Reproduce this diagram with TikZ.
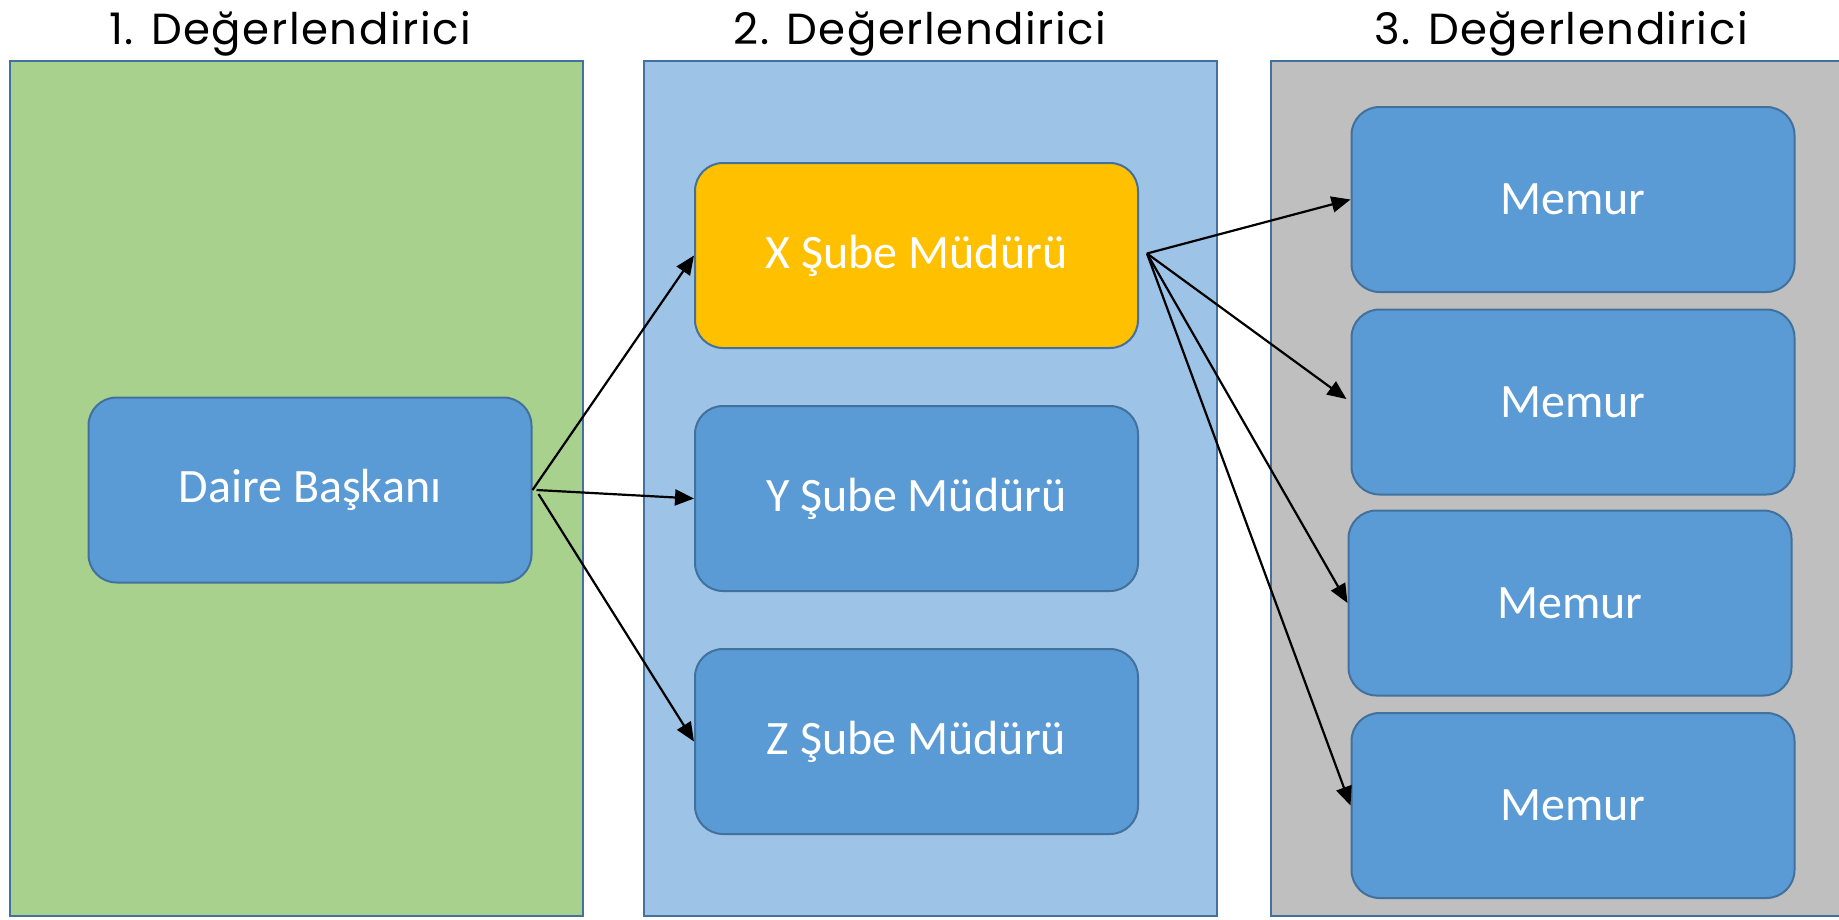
\documentclass[tikz,border=0pt]{standalone}
\usepackage{fontspec}
\newfontfamily\cardfont{Carlito}
\newfontfamily\headfamily[LetterSpace=3.5]{Poppins}
\usetikzlibrary{arrows.meta}

\definecolor{panelgreen}{HTML}{A9D18E}
\definecolor{panelblue}{HTML}{9DC3E6}
\definecolor{panelgray}{HTML}{BFBFBF}
\definecolor{cardblue}{HTML}{5B9BD5}
\definecolor{cardorange}{HTML}{FFC000}
\definecolor{edge}{HTML}{41719C}

\begin{document}
\begin{tikzpicture}[x=1pt,y=-1pt,
  panel/.style={draw=edge, line width=2pt},
  heading/.style={font=\headfamily\fontsize{43.5}{48}\selectfont, anchor=base, text=black, inner sep=0pt},
  card/.style={draw=edge, line width=2pt, fill=cardblue, rounded corners=28pt,
    minimum width=443pt, minimum height=185pt, inner sep=0pt,
    text=white, font=\cardfont\fontsize{48}{50}\selectfont},
  link/.style={-{Triangle[length=19pt,width=16pt]}, line width=2.2pt, black}]
\useasboundingbox (0,0) rectangle (1839,919);

% column backgrounds
\draw[panel, fill=panelgreen] (10,61) rectangle (583,916);
\draw[panel, fill=panelblue] (644,61) rectangle (1217,916);
\draw[panel, fill=panelgray] (1271,61) rectangle (1850,916);

% column headings
\node[heading] (h1) at (290,44) {1. Değerlendirici};
\node[heading] (h2) at (920,44) {2. Değerlendirici};
\node[heading] (h3) at (1561,44) {3. Değerlendirici};

% first level
\node[card] (dab) at (310,490) {Daire Başkanı};

% second level
\node[card, fill=cardorange] (xb) at (916.5,255.5) {X Şube Müdürü};
\node[card] (yb) at (916.5,498.5) {Y Şube Müdürü};
\node[card] (zb) at (916.5,741.5) {Z Şube Müdürü};

% third level
\node[card] (m1) at (1573,199.5) {Memur};
\node[card] (m2) at (1573,402) {Memur};
\node[card] (m3) at (1570,603) {Memur};
\node[card] (m4) at (1573,805.5) {Memur};

% connectors
\coordinate (xo) at ([shift={(8,-2)}]xb.east);
\draw[link] (dab.east) -- (xb.west);
\draw[link] ([xshift=4pt]dab.east) -- (yb.west);
\draw[link] ([shift={(6,4)}]dab.east) -- (zb.west);
\draw[link] (xo) -- (m1.west);
\draw[link, shorten >=5pt] (xo) -- (m2.west);
\draw[link] (xo) -- (m3.west);
\draw[link] (xo) -- (m4.west);
\end{tikzpicture}
\end{document}
